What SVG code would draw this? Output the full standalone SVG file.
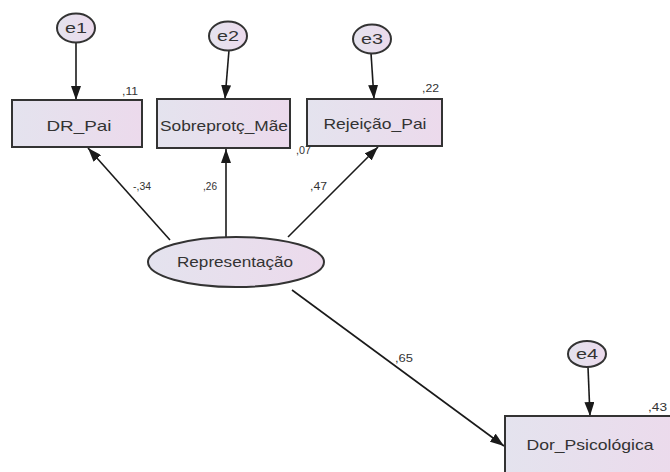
<svg xmlns="http://www.w3.org/2000/svg" width="670" height="472" viewBox="0 0 670 472">
<defs>
<linearGradient id="g" x1="0" y1="0" x2="1" y2="0">
<stop offset="0" stop-color="#e4e3ee"/>
<stop offset="1" stop-color="#ecdaec"/>
</linearGradient>
<marker id="ah" viewBox="0 0 14 10" refX="14" refY="5" markerWidth="14" markerHeight="10" markerUnits="userSpaceOnUse" orient="auto">
<path d="M0,0 L14,5 L0,10 z" fill="#1a1a1a"/>
</marker>
<style>
.box{fill:url(#g);stroke:#333;stroke-width:2}
.ell{fill:url(#g);stroke:#333;stroke-width:2}
.lbl{font-family:"Liberation Sans",Arial,sans-serif;font-size:15px;fill:#333;text-anchor:middle}
.num{font-family:"Liberation Sans",Arial,sans-serif;font-size:11px;fill:#333}
.con{stroke:#1a1a1a;stroke-width:1.6;fill:none;marker-end:url(#ah)}
</style>
</defs>
<rect width="670" height="472" fill="#ffffff"/>
<g id="connectors">
<line class="con" x1="76" y1="42" x2="76" y2="100"/>
<line class="con" x1="229" y1="50" x2="225" y2="99"/>
<line class="con" x1="371" y1="53" x2="374" y2="99"/>
<line class="con" x1="588" y1="367" x2="590" y2="416"/>
<line class="con" x1="170" y1="240" x2="88" y2="148"/>
<line class="con" x1="226" y1="237" x2="226" y2="149"/>
<line class="con" x1="288" y1="237" x2="378" y2="147"/>
<line class="con" x1="292" y1="290" x2="504" y2="446"/>
</g>
<g id="e1"><ellipse class="ell" cx="76" cy="28" rx="19" ry="14.5"/><text class="lbl" x="76" y="33" textLength="22" lengthAdjust="spacingAndGlyphs">e1</text></g>
<g id="e2"><ellipse class="ell" cx="228" cy="36" rx="19" ry="14.5"/><text class="lbl" x="228" y="41" textLength="22" lengthAdjust="spacingAndGlyphs">e2</text></g>
<g id="e3"><ellipse class="ell" cx="372" cy="39" rx="19" ry="14.5"/><text class="lbl" x="372" y="44" textLength="22" lengthAdjust="spacingAndGlyphs">e3</text></g>
<g id="e4"><ellipse class="ell" cx="587" cy="354" rx="19" ry="13"/><text class="lbl" x="587" y="359" textLength="22" lengthAdjust="spacingAndGlyphs">e4</text></g>
<g id="DR_Pai"><rect class="box" x="12" y="100" width="130" height="47"/><text class="lbl" x="79" y="131" textLength="65" lengthAdjust="spacingAndGlyphs">DR_Pai</text><text class="num" x="122" y="95" textLength="16" lengthAdjust="spacingAndGlyphs">,11</text></g>
<g id="Sobreprotc_Mae"><rect class="box" x="157" y="99" width="133" height="49"/><text class="lbl" x="224" y="131" textLength="128" lengthAdjust="spacingAndGlyphs">Sobreprotç_Mãe</text><text class="num" x="296" y="154" textLength="15" lengthAdjust="spacingAndGlyphs">,07</text></g>
<g id="Rejeicao_Pai"><rect class="box" x="307" y="99" width="135" height="47"/><text class="lbl" x="375" y="129" textLength="103" lengthAdjust="spacingAndGlyphs">Rejeição_Pai</text><text class="num" x="422" y="92" textLength="17" lengthAdjust="spacingAndGlyphs">,22</text></g>
<g id="Representacao"><ellipse class="ell" cx="236" cy="262" rx="88" ry="25"/><text class="lbl" x="235" y="267" textLength="116" lengthAdjust="spacingAndGlyphs">Representação</text></g>
<g id="Dor_Psicologica"><rect class="box" x="505" y="416" width="180" height="70"/><text class="lbl" x="590" y="450" textLength="127" lengthAdjust="spacingAndGlyphs">Dor_Psicológica</text><text class="num" x="648" y="411" textLength="19" lengthAdjust="spacingAndGlyphs">,43</text></g>
<g id="path-labels">
<text class="num" x="133" y="190" textLength="18" lengthAdjust="spacingAndGlyphs">-,34</text>
<text class="num" x="203" y="190" textLength="14" lengthAdjust="spacingAndGlyphs">,26</text>
<text class="num" x="310" y="190" textLength="17" lengthAdjust="spacingAndGlyphs">,47</text>
<text class="num" x="395" y="362" textLength="18" lengthAdjust="spacingAndGlyphs">,65</text>
</g>
</svg>
